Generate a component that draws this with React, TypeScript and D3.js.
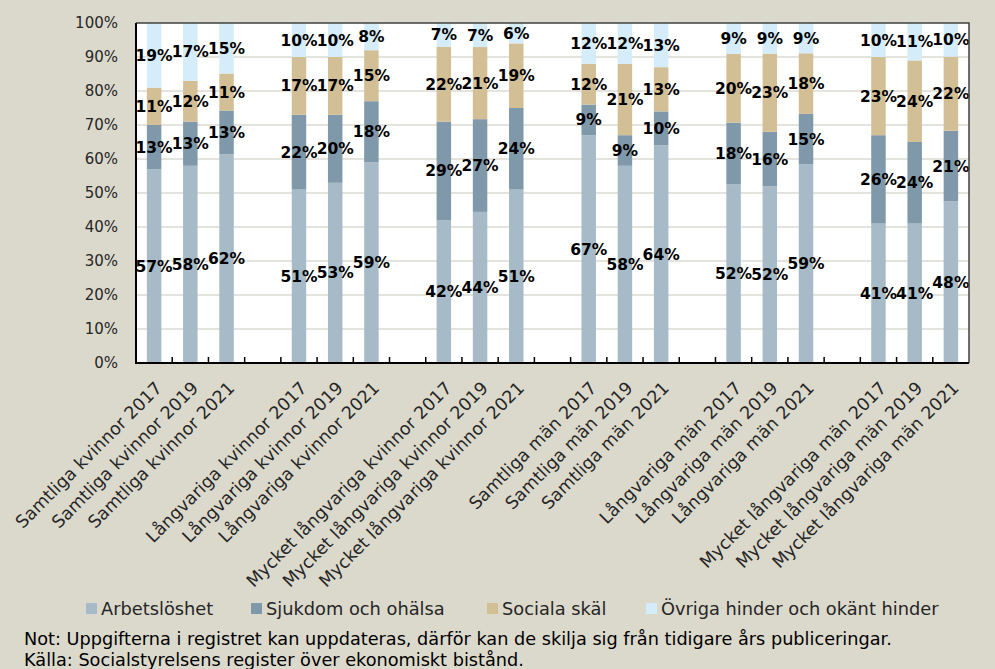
import * as d3 from "d3";
import { useEffect, useRef } from "react";

// categories (blank entries are the gaps between groups)
const categories = [
  "Samtliga kvinnor 2017", "Samtliga kvinnor 2019", "Samtliga kvinnor 2021", "",
  "Långvariga kvinnor 2017", "Långvariga kvinnor 2019", "Långvariga kvinnor 2021", " ",
  "Mycket långvariga kvinnor 2017", "Mycket långvariga kvinnor 2019", "Mycket långvariga kvinnor 2021", "  ",
  "Samtliga män 2017", "Samtliga män 2019", "Samtliga män 2021", "   ",
  "Långvariga män 2017", "Långvariga män 2019", "Långvariga män 2021", "    ",
  "Mycket långvariga män 2017", "Mycket långvariga män 2019", "Mycket långvariga män 2021",
];

const seriesNames = ["Arbetslöshet", "Sjukdom och ohälsa", "Sociala skäl", "Övriga hinder och okänt hinder"];
const seriesColors = ["#a6bbc7", "#7f99aa", "#d3bf96", "#d5ecfa"];

// values per bar (null = gap)
const arbetsloshet = [57, 58, 62, null, 51, 53, 59, null, 42, 44, 51, null, 67, 58, 64, null, 52, 52, 59, null, 41, 41, 48];
const sjukdom = [13, 13, 13, null, 22, 20, 18, null, 29, 27, 24, null, 9, 9, 10, null, 18, 16, 15, null, 26, 24, 21];
const sociala = [11, 12, 11, null, 17, 17, 15, null, 22, 21, 19, null, 12, 21, 13, null, 20, 23, 18, null, 23, 24, 22];
const ovriga = [19, 17, 15, null, 10, 10, 8, null, 7, 7, 6, null, 12, 12, 13, null, 9, 9, 9, null, 10, 11, 10];

const yTicks = [0, 10, 20, 30, 40, 50, 60, 70, 80, 90, 100];

const noteLines = [
  "Not: Uppgifterna i registret kan uppdateras, därför kan de skilja sig från tidigare års publiceringar.",
  "Källa: Socialstyrelsens register över ekonomiskt bistånd.",
];

const W = 995;
const H = 669;
const FONT = "'DejaVu Sans', sans-serif";

export default function App() {
  const ref = useRef<SVGSVGElement>(null);

  useEffect(() => {
    const svg = d3.select(ref.current);
    svg.selectAll("*").remove();

    svg.append("rect").attr("width", W).attr("height", H).attr("fill", "#dbd9cc");

    const plot = { left: 136, right: 969, top: 23, bottom: 363 };

    const x = d3.scaleBand().domain(categories).range([plot.left, plot.right]).paddingInner(0.6).paddingOuter(0.3);
    const y = d3.scaleLinear().domain([0, 100]).range([plot.bottom, plot.top]);

    svg.append("rect")
      .attr("x", plot.left).attr("y", plot.top)
      .attr("width", plot.right - plot.left).attr("height", plot.bottom - plot.top)
      .attr("fill", "#ffffff");

    // gridlines
    svg.append("g").selectAll("line")
      .data(yTicks.slice(1, -1))
      .enter().append("line")
      .attr("x1", plot.left).attr("x2", plot.right)
      .attr("y1", (d) => y(d)).attr("y2", (d) => y(d))
      .attr("stroke", "#dcdad2").attr("stroke-width", 1.5);

    const rows = categories.map((c, i) => {
      const vals = [arbetsloshet[i], sjukdom[i], sociala[i], ovriga[i]];
      return { cat: c, vals };
    }).filter((r) => r.vals[0] !== null);

    rows.forEach((r) => {
      const total = d3.sum(r.vals as number[]);
      let acc = 0;
      const g = svg.append("g");
      r.vals.forEach((v, k) => {
        const share = ((v as number) / total) * 100;
        const y0 = acc;
        const y1 = acc + share;
        acc = y1;
        g.append("rect")
          .attr("x", x(r.cat)!)
          .attr("width", x.bandwidth())
          .attr("y", y(y1))
          .attr("height", y(y0) - y(y1))
          .attr("fill", seriesColors[k]);
      });
      acc = 0;
      r.vals.forEach((v) => {
        const share = ((v as number) / total) * 100;
        const mid = acc + share / 2;
        acc += share;
        g.append("text")
          .attr("x", x(r.cat)! + x.bandwidth() / 2)
          .attr("y", y(mid))
          .attr("dy", "0.36em")
          .attr("text-anchor", "middle")
          .attr("font-family", FONT)
          .attr("font-weight", "bold")
          .attr("font-size", 15.5)
          .attr("fill", "#000")
          .text(v + "%");
      });
    });

    // frame
    svg.append("path")
      .attr("d", `M${plot.left},${plot.top}H${plot.right}V${plot.bottom}`)
      .attr("fill", "none").attr("stroke", "#404040").attr("stroke-width", 1.5);
    svg.append("path")
      .attr("d", `M${plot.left},${plot.top}V${plot.bottom}H${plot.right}`)
      .attr("fill", "none").attr("stroke", "#000").attr("stroke-width", 2);

    // category ticks (between categories, pointing up)
    const step = x.step();
    d3.range(1, categories.length).forEach((i) => {
      const tx = plot.left + i * step;
      svg.append("line")
        .attr("x1", tx).attr("x2", tx)
        .attr("y1", plot.bottom).attr("y2", plot.bottom - 6)
        .attr("stroke", "#000").attr("stroke-width", 1.5);
    });

    // y axis labels
    svg.append("g").selectAll("text")
      .data(yTicks)
      .enter().append("text")
      .attr("x", 118)
      .attr("y", (d) => y(d))
      .attr("dy", "0.36em")
      .attr("text-anchor", "end")
      .attr("font-family", FONT)
      .attr("font-size", 15)
      .attr("fill", "#262626")
      .text((d) => d + "%");

    // x labels
    rows.forEach((r) => {
      const cx = x(r.cat)! + x.bandwidth() / 2 + 9;
      const cy = plot.bottom + 26;
      svg.append("text")
        .attr("transform", `translate(${cx},${cy}) rotate(-45)`)
        .attr("text-anchor", "end")
        .attr("font-family", FONT)
        .attr("font-size", 17.5)
        .attr("fill", "#262626")
        .text(r.cat);
    });

    // legend
    const legendX = [86, 251, 487, 646];
    seriesNames.forEach((name, k) => {
      svg.append("rect")
        .attr("x", legendX[k]).attr("y", 603)
        .attr("width", 11).attr("height", 11)
        .attr("fill", seriesColors[k]);
      svg.append("text")
        .attr("x", legendX[k] + 15).attr("y", 615)
        .attr("font-family", FONT)
        .attr("font-size", 17.8)
        .attr("fill", "#262626")
        .text(name);
    });

    // notes
    noteLines.forEach((line, i) => {
      svg.append("text")
        .attr("x", 24).attr("y", 645 + i * 21)
        .attr("font-family", FONT)
        .attr("font-size", 17.7)
        .attr("fill", "#000")
        .text(line);
    });
  }, []);

  return (
    <svg ref={ref} width={W} height={H} style={{ position: "absolute", left: 0, top: 0 }} />
  );
}
